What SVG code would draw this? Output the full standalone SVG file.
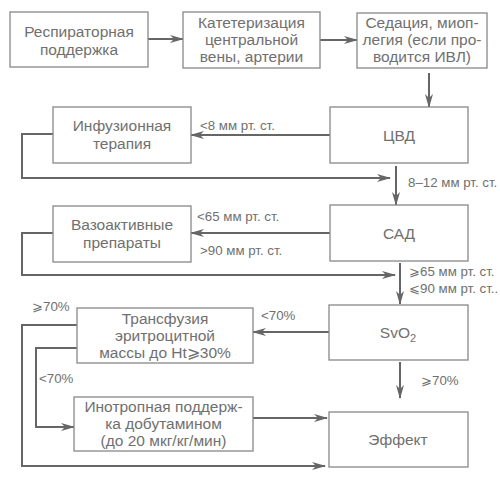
<svg xmlns="http://www.w3.org/2000/svg" width="500" height="481" viewBox="0 0 500 481">
<defs>
<marker id="ah" markerWidth="14" markerHeight="8" refX="13" refY="4" orient="auto" markerUnits="userSpaceOnUse">
<path d="M0,0 L14,4 L0,8 L4,4 Z" fill="#666"/>
</marker>
</defs>
<style>
.box{fill:#fff;stroke:#888;stroke-width:1.3}
.t{font-family:"Liberation Sans",Arial,sans-serif;font-size:15.5px;fill:#707070;text-anchor:middle}
.l{font-family:"Liberation Sans",Arial,sans-serif;font-size:13.3px;fill:#707070}
.c{fill:none;stroke:#666;stroke-width:2}
.a{marker-end:url(#ah)}
</style>
<rect width="500" height="481" fill="#fff"/>
<g id="connectors">
<path class="c a" d="M148,39 H183"/>
<path class="c a" d="M320,40 H357"/>
<path class="c a" d="M429,73 V107"/>
<path class="c a" d="M330,135 H191"/>
<path class="c" d="M53,134 H22 V178 H380"/>
<path class="c a" d="M360,178 H390"/>
<path class="c a" d="M396,166 V205"/>
<path class="c a" d="M330,233 H191"/>
<path class="c" d="M53,233 H22 V275 H380"/>
<path class="c a" d="M360,275 H395"/>
<path class="c a" d="M400,263 V304"/>
<path class="c a" d="M329,332 H253"/>
<path class="c" d="M77,325 H22 V466 H300"/>
<path class="c a" d="M290,466 H325"/>
<path class="c" d="M77,348 H36 V427 H60"/>
<path class="c a" d="M50,427 H74"/>
<path class="c a" d="M253,418 H327"/>
<path class="c a" d="M400,362 V398"/>
</g>
<g id="labels">
<text class="l" x="200" y="130">&lt;8 мм рт. ст.</text>
<text class="l" x="408" y="187">8–12 мм рт. ст.</text>
<text class="l" x="197" y="221">&lt;65 мм рт. ст.</text>
<text class="l" x="200" y="255">&gt;90 мм рт. ст.</text>
<text class="l" x="409" y="276">⩾65 мм рт. ст.</text>
<text class="l" x="409" y="293">⩽90 мм рт. ст..</text>
<text class="l" x="261" y="320">&lt;70%</text>
<text class="l" x="32" y="311">⩾70%</text>
<text class="l" x="39" y="383">&lt;70%</text>
<text class="l" x="421" y="385">⩾70%</text>
</g>
<g id="n1"><rect class="box" x="10" y="12" width="138" height="55"/><text class="t" x="79" y="37">Респираторная</text><text class="t" x="79" y="55">поддержка</text></g>
<g id="n2"><rect class="box" x="183" y="12" width="137" height="56"/><text class="t" x="251.5" y="28">Катетеризация</text><text class="t" x="251.5" y="45">центральной</text><text class="t" x="251.5" y="62">вены, артерии</text></g>
<g id="n3"><rect class="box" x="357" y="13" width="130" height="55"/><text class="t" x="422" y="28">Седация, миоп-</text><text class="t" x="422" y="45">легия (если про-</text><text class="t" x="422" y="62">водится ИВЛ)</text></g>
<g id="n4"><rect class="box" x="330" y="107" width="138" height="56"/><text class="t" x="399" y="141">ЦВД</text></g>
<g id="n5"><rect class="box" x="53" y="107" width="138" height="56"/><text class="t" x="122" y="131">Инфузионная</text><text class="t" x="122" y="149">терапия</text></g>
<g id="n6"><rect class="box" x="330" y="205" width="138" height="56"/><text class="t" x="399" y="239">САД</text></g>
<g id="n7"><rect class="box" x="53" y="206" width="138" height="56"/><text class="t" x="122" y="230">Вазоактивные</text><text class="t" x="122" y="248">препараты</text></g>
<g id="n8"><rect class="box" x="329" y="305" width="139" height="55"/><text class="t" x="398" y="338">SvO<tspan font-size="11" dy="4">2</tspan></text></g>
<g id="n9"><rect class="box" x="77" y="308" width="176" height="55"/><text class="t" x="165" y="324">Трансфузия</text><text class="t" x="165" y="341">эритроцитной</text><text class="t" x="165" y="358">массы до Ht⩾30%</text></g>
<g id="n10"><rect class="box" x="74" y="397" width="179" height="54"/><text class="t" x="163.5" y="412">Инотропная поддерж-</text><text class="t" x="163.5" y="429">ка добутамином</text><text class="t" x="163.5" y="446">(до 20 мкг/кг/мин)</text></g>
<g id="n11"><rect class="box" x="329" y="412" width="139" height="55"/><text class="t" x="398" y="445">Эффект</text></g>
</svg>
